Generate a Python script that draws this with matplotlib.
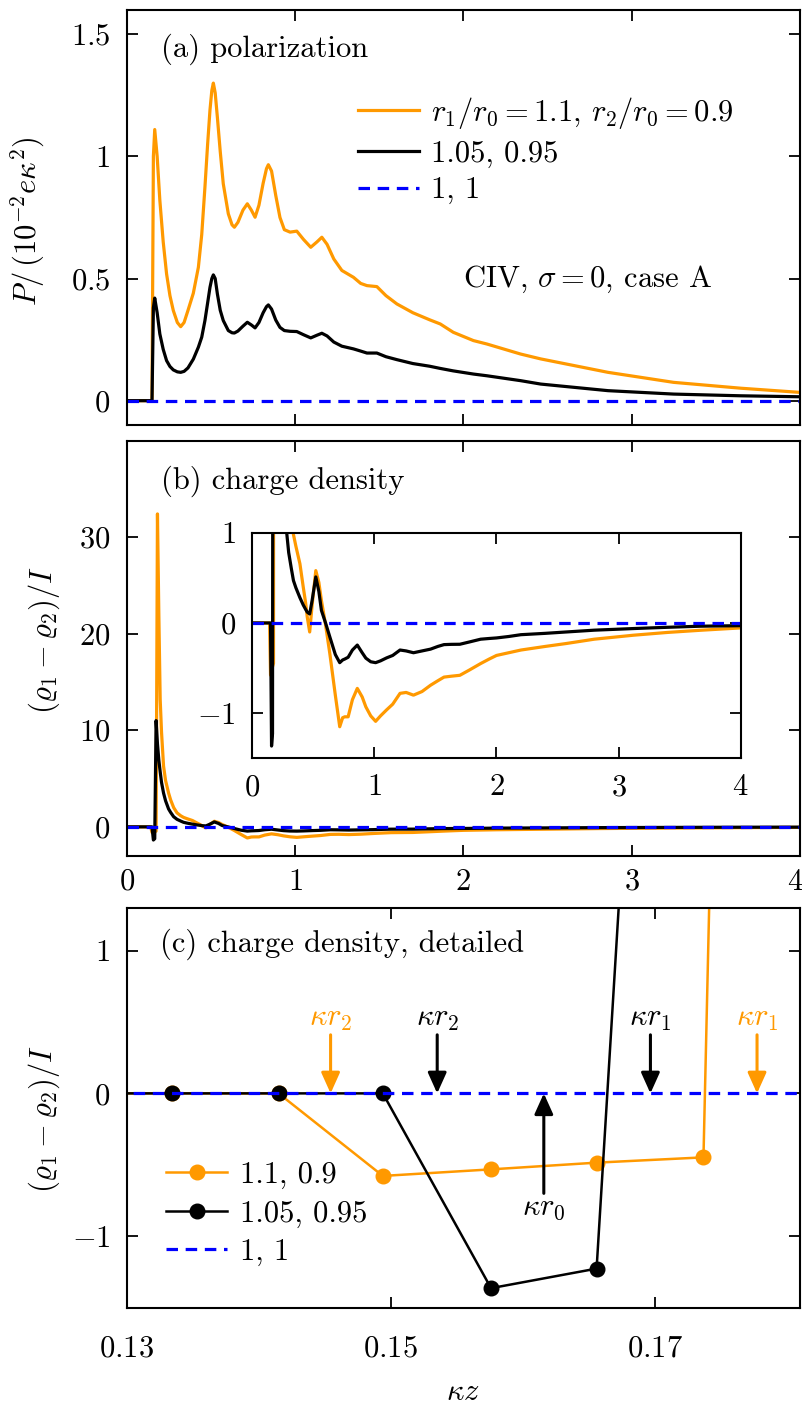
import numpy as np
import matplotlib
matplotlib.use('Agg')
import matplotlib.pyplot as plt
from matplotlib.transforms import offset_copy

plt.rcParams.update({
    'font.family': 'serif',
    'font.serif': ['cmr10'],
    'mathtext.fontset': 'cm',
    'axes.formatter.use_mathtext': True,
    'axes.unicode_minus': True,
    'font.size': 22,
    'axes.linewidth': 1.5,
    'xtick.direction': 'in', 'ytick.direction': 'in',
    'xtick.top': True, 'ytick.right': True,
    'xtick.major.size': 8, 'ytick.major.size': 8,
    'xtick.major.width': 1.3, 'ytick.major.width': 1.3,
})

ORANGE = '#FF9900'
BLUE = '#0000FF'

# ---------------- data: panel (a) polarization ----------------
kz_P = [0.0, 0.1494, 0.1576, 0.1656, 0.18, 0.196, 0.216, 0.236, 0.256, 0.276,
        0.30, 0.32, 0.34, 0.363, 0.395, 0.425, 0.445, 0.464, 0.48, 0.494,
        0.505, 0.514, 0.525, 0.538, 0.555, 0.573, 0.603, 0.625, 0.639, 0.66,
        0.69, 0.716, 0.74, 0.762, 0.785, 0.81, 0.83, 0.841, 0.86, 0.885,
        0.91, 0.936, 0.97, 1.01, 1.05, 1.093, 1.13, 1.159, 1.19, 1.23,
        1.278, 1.347, 1.39, 1.427, 1.486, 1.54, 1.605, 1.70, 1.80, 1.863,
        1.94, 2.06, 2.14, 2.34, 2.46, 2.86, 3.25, 3.65, 4.0]
P_110 = [0, 0, 1.0, 1.11, 1.0, 0.82, 0.65, 0.519, 0.43, 0.369,
         0.32, 0.303, 0.32, 0.369, 0.44, 0.546, 0.68, 0.874, 1.05, 1.19,
         1.27, 1.30, 1.26, 1.16, 1.02, 0.888, 0.765, 0.72, 0.71, 0.73,
         0.78, 0.806, 0.78, 0.751, 0.80, 0.89, 0.95, 0.966, 0.94, 0.84,
         0.75, 0.70, 0.69, 0.694, 0.66, 0.628, 0.65, 0.669, 0.64, 0.58,
         0.533, 0.505, 0.48, 0.471, 0.467, 0.43, 0.396, 0.36, 0.331, 0.314,
         0.28, 0.246, 0.232, 0.191, 0.171, 0.116, 0.075, 0.051, 0.034]
P_105 = [0, 0, 0.38, 0.42, 0.36, 0.273, 0.21, 0.164, 0.14, 0.126,
         0.118, 0.116, 0.12, 0.134, 0.17, 0.219, 0.26, 0.328, 0.40, 0.464,
         0.50, 0.515, 0.50, 0.437, 0.37, 0.328, 0.287, 0.278, 0.277, 0.285,
         0.305, 0.321, 0.31, 0.298, 0.32, 0.36, 0.385, 0.392, 0.375, 0.33,
         0.30, 0.287, 0.284, 0.283, 0.27, 0.257, 0.268, 0.276, 0.265, 0.24,
         0.223, 0.212, 0.203, 0.195, 0.195, 0.18, 0.168, 0.152, 0.141, 0.132,
         0.122, 0.109, 0.102, 0.082, 0.068, 0.041, 0.027, 0.020, 0.016]

# ---------------- data: panels (b), (c) charge density ----------------
kz_rho = [0.0, 0.1253, 0.1334, 0.1415, 0.1494, 0.1576, 0.1656, 0.1737,
          0.1818, 0.19, 0.198, 0.206, 0.218, 0.23, 0.248, 0.26,
          0.278, 0.298, 0.32, 0.337, 0.357, 0.39, 0.417, 0.437,
          0.45, 0.47, 0.49, 0.52, 0.545, 0.566, 0.6, 0.635,
          0.68, 0.716, 0.74, 0.757, 0.785, 0.82, 0.86, 0.9,
          0.93, 0.97, 1.01, 1.05, 1.10, 1.15, 1.21, 1.26,
          1.32, 1.39, 1.46, 1.52, 1.57, 1.63, 1.70, 1.78,
          1.87, 1.94, 2.0, 2.1, 2.2, 2.4, 2.57, 2.8,
          3.12, 3.4, 3.67, 4.0]
rho_110 = [0, 0, 0, 0, -0.578, -0.532, -0.485, -0.448,
           32.4, 22.0, 13.2, 9.8, 6.3, 4.8, 3.5, 2.8,
           2.0, 1.45, 1.15, 0.98, 0.85, 0.656, 0.40, 0.22,
           0.066, -0.10, 0.20, 0.58, 0.45, 0.25, -0.02, -0.34,
           -0.80, -1.15, -1.05, -1.04, -1.04, -0.85, -0.725, -0.82,
           -0.93, -1.03, -1.09, -1.03, -0.963, -0.90, -0.78, -0.77,
           -0.80, -0.76, -0.69, -0.64, -0.60, -0.59, -0.58, -0.52,
           -0.45, -0.40, -0.36, -0.33, -0.30, -0.26, -0.228, -0.18,
           -0.136, -0.105, -0.081, -0.055]
rho_105 = [0, 0, 0, 0, 0, -1.364, -1.227, 11.0,
           8.6, 6.9, 5.7, 4.6, 3.5, 2.7, 1.85, 1.5,
           1.05, 0.78, 0.6, 0.47, 0.39, 0.28, 0.2, 0.15,
           0.12, 0.10, 0.25, 0.51, 0.35, 0.14, 0.0, -0.155,
           -0.35, -0.44, -0.41, -0.40, -0.38, -0.30, -0.245, -0.33,
           -0.39, -0.43, -0.44, -0.42, -0.387, -0.36, -0.30, -0.31,
           -0.33, -0.31, -0.29, -0.26, -0.24, -0.237, -0.236, -0.21,
           -0.18, -0.172, -0.166, -0.15, -0.13, -0.115, -0.10, -0.08,
           -0.062, -0.048, -0.036, -0.03]

# symmetric case r1 = r2 = r0: zero everywhere
kz_flat = [0.0, 4.0]
zero_flat = [0.0, 0.0]

# radii positions (panel c)
kr0 = 0.1616
ratio_110 = [1.1, 0.9]
ratio_105 = [1.05, 0.95]

labels_a = [r'$r_1/r_0=1.1$, $r_2/r_0=0.9$', '1.05, 0.95', '1, 1']
labels_c = ['1.1, 0.9', '1.05, 0.95', '1, 1']

assert len(kz_P) == len(P_110) == len(P_105)
assert len(kz_rho) == len(rho_110) == len(rho_105)

# ---------------- figure ----------------
fig = plt.figure(figsize=(8.03, 14.03), dpi=100)
L, W = 0.158, 0.838
ax1 = fig.add_axes([L, 0.697, W, 0.296])
ax2 = fig.add_axes([L, 0.390, W, 0.296])
ax3 = fig.add_axes([L, 0.068, W, 0.285])
axin = fig.add_axes([0.3142, 0.4595, 0.6082, 0.1608])

dash = (0, (3.6, 2.4))
lw_main = 2.3

# panel (a)
ax1.plot(kz_P, P_110, color=ORANGE, lw=lw_main, label=labels_a[0])
ax1.plot(kz_P, P_105, color='black', lw=lw_main, label=labels_a[1])
ax1.plot(kz_flat, zero_flat, color=BLUE, lw=lw_main, ls=dash, label=labels_a[2])
ax1.set_xlim(0, 4)
ax1.set_ylim(-0.1, 1.6)
ax1.set_xticks([0, 1, 2, 3, 4])
ax1.set_xticklabels([])
ax1.set_yticks([0, 0.5, 1, 1.5])
ax1.set_yticklabels([r'$0$', r'$0.5$', r'$1$', r'$1.5$'])
ax1.set_ylabel(r'$P/\,(10^{-2}e\kappa^2)$')
ax1.yaxis.set_label_coords(-0.119, 0.49)
ax1.text(0.050, 0.8875, '(a) polarization', transform=ax1.transAxes,
         ha='left', va='baseline')
ax1.text(0.4997, 0.333, r'CIV, $\sigma=0$, case A', transform=ax1.transAxes,
         ha='left', va='baseline')
ax1.legend(loc='upper left', bbox_to_anchor=(0.343, 0.795), frameon=False,
           handlelength=2.0, handletextpad=0.4, labelspacing=0.3,
           borderpad=0, borderaxespad=0)

# panel (b)
ax2.plot(kz_rho, rho_110, color=ORANGE, lw=lw_main)
ax2.plot(kz_rho, rho_105, color='black', lw=lw_main)
ax2.plot(kz_flat, zero_flat, color=BLUE, lw=lw_main, ls=dash)
ax2.set_xlim(0, 4)
ax2.set_ylim(-3, 40)
ax2.set_xticks([0, 1, 2, 3, 4])
ax2.set_xticklabels([r'$0$', r'$1$', r'$2$', r'$3$', r'$4$'])
ax2.set_yticks([0, 10, 20, 30])
ax2.set_yticklabels([r'$0$', r'$10$', r'$20$', r'$30$'])
ax2.set_ylabel(r'$(\varrho_1-\varrho_2)/I$')
ax2.yaxis.set_label_coords(-0.097, 0.52)
ax2.text(0.050, 0.885, '(b) charge density', transform=ax2.transAxes,
         ha='left', va='baseline')

# inset
axin.plot(kz_rho, rho_110, color=ORANGE, lw=lw_main)
axin.plot(kz_rho, rho_105, color='black', lw=lw_main)
axin.plot(kz_flat, zero_flat, color=BLUE, lw=lw_main, ls=dash)
axin.set_xlim(0, 4)
axin.set_ylim(-1.5, 1)
axin.set_xticks([0, 1, 2, 3, 4])
axin.set_xticklabels([r'$0$', r'$1$', r'$2$', r'$3$', r'$4$'])
axin.set_yticks([-1, 0, 1])
axin.set_yticklabels([r'$-1$', r'$0$', r'$1$'])

# panel (c)
ax3.plot(kz_rho, rho_110, color=ORANGE, lw=1.8, marker='o', ms=10.5, label=labels_c[0])
ax3.plot(kz_rho, rho_105, color='black', lw=1.8, marker='o', ms=10.5, label=labels_c[1])
ax3.plot(kz_flat, zero_flat, color=BLUE, lw=lw_main, ls=dash, label=labels_c[2])
ax3.set_xlim(0.13, 0.181)
ax3.set_ylim(-1.5, 1.3)
ax3.set_xticks([0.13, 0.15, 0.17])
ax3.set_xticklabels([r'$0.13$', r'$0.15$', r'$0.17$'])
ax3.set_yticks([-1, 0, 1])
ax3.set_yticklabels([r'$-1$', r'$0$', r'$1$'])
ax3.set_ylabel(r'$(\varrho_1-\varrho_2)/I$')
ax3.yaxis.set_label_coords(-0.097, 0.47)
ax3.set_xlabel(r'$\kappa z$', labelpad=11)
ax3.text(0.0496, 0.889, '(c) charge density, detailed', transform=ax3.transAxes,
         ha='left', va='baseline')
ax3.legend(loc='upper left', bbox_to_anchor=(0.0585, 0.365), frameon=False,
           handlelength=2.0, handletextpad=0.4, labelspacing=0.36,
           borderpad=0, borderaxespad=0, numpoints=1)

arrow_kw = dict(arrowstyle='-|>,head_length=0.6,head_width=0.27', lw=2.2,
                shrinkA=0, shrinkB=0, mutation_scale=21)
marks = [(kr0 * ratio_110[1], ORANGE, r'$\kappa r_2$'),
         (kr0 * ratio_105[1], 'black', r'$\kappa r_2$'),
         (kr0 * ratio_105[0], 'black', r'$\kappa r_1$'),
         (kr0 * ratio_110[0], ORANGE, r'$\kappa r_1$')]
for xm, col, lab in marks:
    ax3.annotate('', xy=(xm, 0), xytext=(xm, 0.41),
                 arrowprops=dict(color=col, **arrow_kw))
    ax3.text(xm, 0.42, lab, color=col, ha='center', va='bottom')
ax3.annotate('', xy=(kr0, 0), xytext=(kr0, -0.70),
             arrowprops=dict(color='black', **arrow_kw))
ax3.text(kr0, -0.705, r'$\kappa r_0$', color='black', ha='center', va='top')

for ax in (ax1, ax2, ax3, axin):
    ax.tick_params(axis='y', pad=12)
ax2.tick_params(axis='x', pad=9)
axin.tick_params(axis='x', pad=11)
ax3.tick_params(axis='x', pad=20)

# keep the last tick label of panel (b) inside the canvas
fig.canvas.draw()
last = ax2.get_xticklabels()[-1]
last.set_transform(offset_copy(last.get_transform(), fig=fig, x=-5, y=0, units='dots'))

fig.savefig('out.png', dpi=100)
